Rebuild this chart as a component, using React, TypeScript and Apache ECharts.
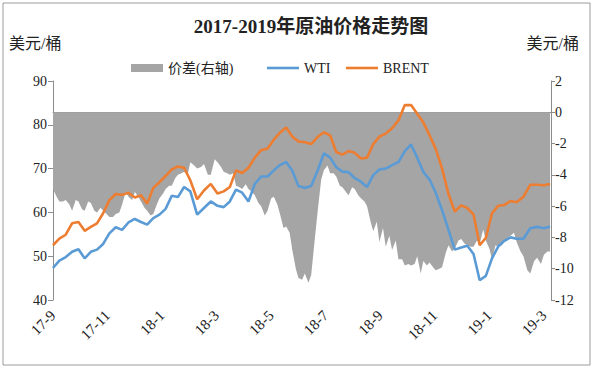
import React, { useEffect, useRef } from "react";
import * as echarts from "echarts";

// Weekly observation dates (Fridays) for WTI / BRENT
const dates = [
  "2017-09-01","2017-09-08","2017-09-15","2017-09-22","2017-09-29",
  "2017-10-06","2017-10-13","2017-10-20","2017-10-27",
  "2017-11-03","2017-11-10","2017-11-17","2017-11-24",
  "2017-12-01","2017-12-08","2017-12-15","2017-12-22","2017-12-29",
  "2018-01-05","2018-01-12","2018-01-19","2018-01-26",
  "2018-02-02","2018-02-09","2018-02-16","2018-02-23",
  "2018-03-02","2018-03-09","2018-03-16","2018-03-23","2018-03-30",
  "2018-04-06","2018-04-13","2018-04-20","2018-04-27",
  "2018-05-04","2018-05-11","2018-05-18","2018-05-25",
  "2018-06-01","2018-06-08","2018-06-15","2018-06-22","2018-06-29",
  "2018-07-06","2018-07-13","2018-07-20","2018-07-27",
  "2018-08-03","2018-08-10","2018-08-17","2018-08-24","2018-08-31",
  "2018-09-07","2018-09-14","2018-09-21","2018-09-28",
  "2018-10-05","2018-10-12","2018-10-19","2018-10-26",
  "2018-11-02","2018-11-09","2018-11-16","2018-11-23","2018-11-30",
  "2018-12-07","2018-12-14","2018-12-21","2018-12-28",
  "2019-01-04","2019-01-11","2019-01-18","2019-01-25",
  "2019-02-01","2019-02-08","2019-02-15","2019-02-22",
  "2019-03-01","2019-03-08",
];

// WTI, USD/bbl
const wti = [
  47.3, 49.0, 49.8, 51.0, 51.6,
  49.5, 51.0, 51.5, 52.8,
  55.2, 56.6, 56.0, 57.7,
  58.5, 57.8, 57.2, 58.7, 59.5,
  60.8, 63.8, 63.5, 65.8,
  64.8, 59.5, 61.0, 62.5,
  61.5, 61.2, 62.5, 65.2, 64.5,
  62.5, 66.5, 68.2, 68.2,
  69.6, 70.8, 71.5, 69.5,
  66.0, 65.6, 66.0, 69.5, 73.5,
  72.5, 70.3, 69.3, 69.2,
  67.8, 67.0, 65.8, 68.5, 69.8,
  70.0, 70.8, 71.5, 74.0,
  75.5, 72.5, 69.2, 67.5,
  64.5, 60.5, 56.0, 51.5, 52.0,
  52.4, 50.5, 44.5, 45.5,
  49.5, 52.2, 53.5, 54.3,
  54.0, 54.0, 56.4, 56.7,
  56.4, 56.8,
];

// BRENT, USD/bbl
const brent = [
  52.5, 54.0, 54.9, 57.5, 57.8,
  55.8, 56.7, 57.5, 59.8,
  62.8, 64.2, 64.0, 64.5,
  63.4, 63.9, 62.0, 65.6, 66.9,
  68.3, 69.8, 70.5, 70.2,
  67.3, 63.0, 65.0, 66.5,
  64.3, 64.8, 65.8, 69.6, 69.0,
  70.2, 72.5, 74.2, 74.6,
  76.6, 78.2, 79.4, 77.3,
  76.2, 76.0, 75.6, 77.2, 78.3,
  77.6, 73.8, 73.2, 74.0,
  73.6, 72.3, 72.5, 75.6, 77.3,
  78.0, 79.2, 81.0, 84.5,
  84.5, 82.5, 80.5, 77.6,
  74.5, 70.0, 64.2, 60.2, 61.6,
  61.0, 59.5, 52.5, 54.2,
  59.8, 61.5, 61.7, 62.6,
  62.3, 63.6, 66.3, 66.3,
  66.2, 66.5,
];

// Spread (right axis), two readings per week: each Friday, then the following Tuesday
const spread = [
  -4.9, -5.4, -5.7, -5.7, -5.6, -5.9, -6.3, -5.6, -5.7, -6.2,
  -6.3, -5.7, -5.8, -6.3, -6.4, -6.1, -6.3, -6.5,
  -6.7, -6.7, -6.5, -6.4, -5.9, -5.1, -5.4, -5.6,
  -5.1, -5.4, -5.7, -6.1, -6.3, -6.6, -6.5, -5.9, -5.5, -5.2,
  -4.9, -4.7, -4.7, -4.2, -4.0, -3.9, -3.8, -4.0,
  -3.2, -3.4, -3.6, -3.5, -3.3, -4.0, -4.0, -3.0,
  -3.2, -3.5, -3.8, -3.9, -4.0, -3.9, -4.7, -4.8, -4.9, -4.6,
  -4.9, -5.1, -5.3, -5.8, -6.0, -6.6, -6.3, -5.5,
  -5.4, -5.9, -6.5, -7.4, -7.3, -7.7, -8.8, -10.0,
  -10.6, -10.7, -10.3, -10.9, -10.4, -8.1, -6.4, -4.3, -3.7, -3.4,
  -3.9, -3.9, -4.1, -4.7, -4.8, -5.1, -5.3, -4.8,
  -4.9, -5.3, -5.5, -5.7, -6.0, -7.0, -7.6, -7.0, -8.3, -7.4,
  -8.6, -7.9, -8.8, -8.2, -9.4, -9.4, -9.8, -9.7,
  -9.8, -9.7, -9.2, -10.3, -9.5, -9.8, -9.6, -9.9,
  -10.1, -10.0, -9.9, -9.0, -8.5, -8.9, -8.7, -8.2, -8.1, -8.4,
  -8.5, -8.6, -8.6, -8.2, -8.4, -7.5, -8.2, -8.7,
  -9.4, -8.5, -8.6, -8.5, -8.3, -8.0, -7.9, -7.7,
  -8.3, -8.9, -9.2, -10.1, -10.3, -9.5, -9.3, -9.7,
  -9.1, -8.9, -8.9,
];

const xTickLabels = ["17-9", "17-11", "18-1", "18-3", "18-5", "18-7", "18-9", "18-11", "19-1", "19-3"];

const titleText = "2017-2019年原油价格走势图";
const unitText = "美元/桶";
const seriesNames = ["价差(右轴)", "WTI", "BRENT"];

const FONT = "'Liberation Serif', 'Noto Sans CJK SC', serif";

function parseDate(d: string) {
  const [y, m, day] = d.split("-").map(Number);
  return { y, m, day };
}

// months elapsed since 2017-09-01
function monthPos(d: string): number {
  const { y, m, day } = parseDate(d);
  const dim = new Date(y, m, 0).getDate();
  return (y - 2017) * 12 + (m - 9) + (day - 1) / dim;
}

function addDays(d: string, n: number): string {
  const { y, m, day } = parseDate(d);
  const t = new Date(Date.UTC(y, m - 1, day + n));
  return t.toISOString().slice(0, 10);
}

// Friday + following Tuesday for each week
const spreadDates = dates.flatMap((d, i) => (i < dates.length - 1 ? [d, addDays(d, 4)] : [d]));

export default function App() {
  const ref = useRef<HTMLDivElement>(null);

  useEffect(() => {
    document.body.style.margin = "0";
    if (!ref.current) return;
    const chart = echarts.init(ref.current, undefined, { renderer: "svg" });
    const pairs = (ds: string[], arr: number[]) => arr.map((v, i) => [monthPos(ds[i]), v]);

    const legendBase = {
      top: 61,
      padding: 0,
      itemWidth: 32,
      itemHeight: 8,
      textStyle: { fontFamily: FONT, fontSize: 14, color: "#222" },
      selectedMode: false,
    };
    const lineIcon = "path://M0,0H32V2.6H0Z";

    const option: any = {
      animation: false,
      backgroundColor: "#ffffff",
      textStyle: { fontFamily: FONT },
      graphic: [
        {
          type: "rect",
          shape: { x: 3, y: 3, width: 587, height: 362 },
          style: { fill: "none", stroke: "#9a9a9a", lineWidth: 1 },
          silent: true,
        },
        {
          type: "text",
          x: 311,
          y: 26,
          style: {
            text: titleText,
            fontFamily: FONT,
            fontSize: 19,
            fontWeight: "bold",
            fill: "#222",
            align: "center",
            verticalAlign: "middle",
          },
        },
        {
          type: "text",
          x: 9,
          y: 43,
          style: {
            text: unitText,
            fontFamily: FONT,
            fontSize: 16,
            fill: "#222",
            align: "left",
            verticalAlign: "middle",
          },
        },
        {
          type: "text",
          x: 579,
          y: 43,
          style: {
            text: unitText,
            fontFamily: FONT,
            fontSize: 16,
            fill: "#222",
            align: "right",
            verticalAlign: "middle",
          },
        },
      ],
      legend: [
        { ...legendBase, left: 131, data: [{ name: seriesNames[0], icon: "rect" }] },
        { ...legendBase, left: 267, data: [{ name: seriesNames[1], icon: lineIcon }] },
        { ...legendBase, left: 346, data: [{ name: seriesNames[2], icon: lineIcon }] },
      ],
      grid: { left: 53, right: 43, top: 81, bottom: 68, containLabel: false },
      xAxis: {
        type: "value",
        min: 0,
        max: 18.26,
        interval: 2,
        splitLine: { show: false },
        axisLine: { show: true, lineStyle: { color: "#8c8c8c" } },
        axisTick: { show: true, length: 5, lineStyle: { color: "#8c8c8c" } },
        axisLabel: {
          rotate: 45,
          fontFamily: FONT,
          fontSize: 15,
          color: "#222",
          margin: 13,
          showMaxLabel: false,
          formatter: (v: number) => {
            const r = Math.round(v);
            if (Math.abs(v - r) > 1e-6 || r % 2 !== 0) return "";
            return xTickLabels[r / 2] ?? "";
          },
        },
      },
      yAxis: [
        {
          type: "value",
          min: 40,
          max: 90,
          interval: 10,
          splitLine: { show: false },
          axisLine: { show: true, lineStyle: { color: "#8c8c8c" } },
          axisTick: { show: true, length: 5, lineStyle: { color: "#8c8c8c" } },
          axisLabel: { fontFamily: FONT, fontSize: 14, color: "#222", margin: 6 },
        },
        {
          type: "value",
          min: -12,
          max: 2,
          interval: 2,
          position: "right",
          splitLine: { show: false },
          axisLine: { show: true, lineStyle: { color: "#8c8c8c" } },
          axisTick: { show: true, length: 4, lineStyle: { color: "#8c8c8c" } },
          axisLabel: { fontFamily: FONT, fontSize: 14, color: "#222", margin: 4 },
        },
      ],
      series: [
        {
          name: seriesNames[0],
          type: "line",
          yAxisIndex: 1,
          data: pairs(spreadDates, spread),
          symbol: "none",
          color: "#a5a5a5",
          lineStyle: { width: 0 },
          areaStyle: { color: "#a5a5a5", opacity: 1 },
          z: 1,
        },
        {
          name: seriesNames[1],
          type: "line",
          yAxisIndex: 0,
          data: pairs(dates, wti),
          symbol: "none",
          color: "#5b9bd5",
          lineStyle: { width: 2.6, color: "#5b9bd5" },
          z: 3,
        },
        {
          name: seriesNames[2],
          type: "line",
          yAxisIndex: 0,
          data: pairs(dates, brent),
          symbol: "none",
          color: "#ed7d31",
          lineStyle: { width: 2.6, color: "#ed7d31" },
          z: 4,
        },
      ],
    };
    chart.setOption(option);
    return () => chart.dispose();
  }, []);

  return <div ref={ref} style={{ width: 594, height: 368 }} />;
}
